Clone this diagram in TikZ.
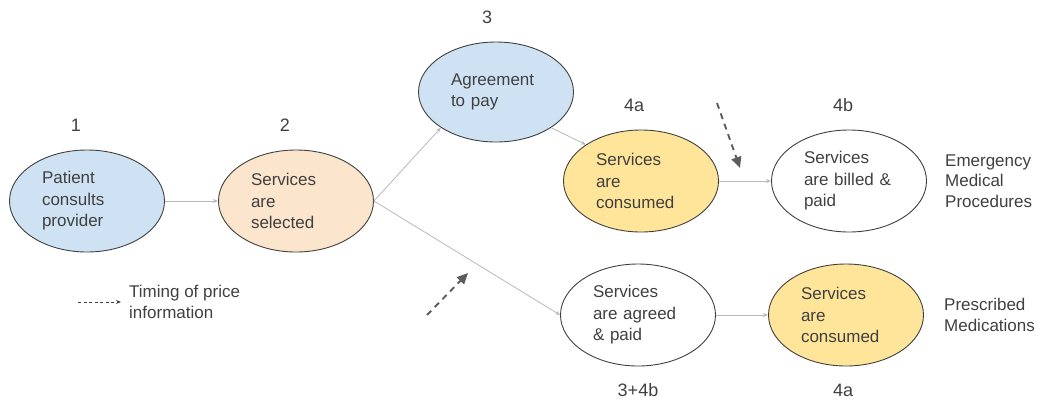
\documentclass[tikz,border=0pt]{standalone}
\usepackage{fontspec}
\setmainfont{Liberation Sans}
\usetikzlibrary{arrows.meta,positioning,shapes.geometric}
\definecolor{paleblue}{HTML}{CFE2F3}
\definecolor{paleorange}{HTML}{FCE5CD}
\definecolor{paleyellow}{HTML}{FFE599}
\definecolor{edgegray}{HTML}{B8B8B8}
\definecolor{inkgray}{HTML}{404040}

\begin{document}
\begin{tikzpicture}[
  x=1pt, y=-1pt,
  stagenode/.style={draw=inkgray, line width=0.9pt, ellipse, minimum width=155pt, minimum height=102pt, text width=90pt, align=left, inner sep=0pt, font=\fontsize{17}{21.5}\selectfont, text=inkgray},
  steplabel/.style={font=\fontsize{18}{21}\selectfont, text=inkgray},
  sidelabel/.style={align=left, inner sep=0pt, font=\fontsize{17}{20.5}\selectfont, text=inkgray},
  flowline/.style={draw=edgegray, line width=0.8pt, -{Stealth[length=5pt,width=4pt]}},
  priceline/.style={draw=inkgray!85, line width=1.9pt, dash pattern=on 6pt off 5pt, -{Triangle[length=11pt,width=10pt]}}
]
\useasboundingbox (0,0) rectangle (1040,402);

% stages
\node[stagenode, fill=paleblue] (consult) at (87,201) {Patient\\consults\\provider};
\node[stagenode, fill=paleorange] (select) at (296,201) {Services\\are\\selected};
\node[stagenode, fill=paleblue, minimum height=100pt] (agree) at (496,92) {Agreement\\to pay};
\node[stagenode, fill=paleyellow] (consumeA) at (641,181) {Services\\are\\consumed};
\node[stagenode] (billed) at (849,181) {Services\\are billed \&\\paid};
\node[stagenode] (prepaid) at (638,315) {Services\\are agreed\\\& paid};
\node[stagenode, fill=paleyellow] (consumeB) at (846,315) {Services\\are\\consumed};

% step numbers
\node[steplabel] (n1) at (76,125) {1};
\node[steplabel] (n2) at (285,125) {2};
\node[steplabel] (n3) at (487,17) {3};
\node[steplabel] (n4a) at (634,105) {4a};
\node[steplabel] (n4b) at (843,105) {4b};
\node[steplabel] (n34b) at (638,390) {3+4b};
\node[steplabel] (n4a2) at (843,390) {4a};

% cases
\node[sidelabel, right=18pt of billed] (emergency) {Emergency\\Medical\\Procedures};
\node[sidelabel, right=20pt of consumeB] (prescribed) {Prescribed\\Medications};

% flow
\draw[flowline] (consult) -- (select);
\draw[flowline] (select.east) -- (agree.south west);
\draw[flowline] (agree.south east) -- (consumeA.north west);
\draw[flowline] (select.east) -- (prepaid.west);
\draw[flowline] (consumeA) -- (billed);
\draw[flowline] (prepaid) -- (consumeB);

% timing of price information
\coordinate (infoA) at (717,103);
\coordinate (infoAend) at (740,168);
\coordinate (infoB) at (427,315);
\coordinate (infoBend) at (468,273);
\draw[priceline] (infoA) -- (infoAend);
\draw[priceline] (infoB) -- (infoBend);

% legend
\coordinate (keystart) at (78,302);
\node[sidelabel, anchor=west] (keytext) at (129,302) {Timing of price\\information};
\draw[draw=inkgray, line width=0.9pt, dash pattern=on 3pt off 2.5pt, -{Stealth[length=5pt,width=4pt]}] (keystart) -- (keytext.west -| 121,0);
\end{tikzpicture}
\end{document}
